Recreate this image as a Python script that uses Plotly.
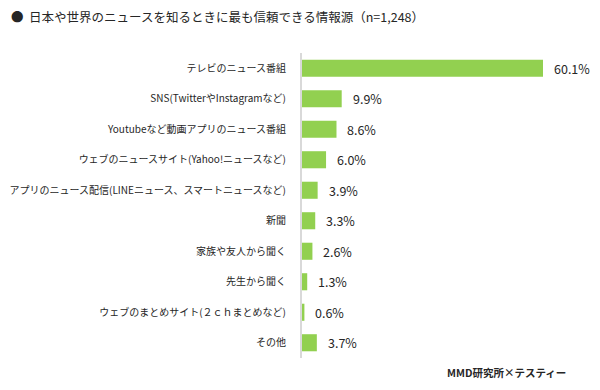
import plotly.graph_objects as go

categories = [
    "テレビのニュース番組",
    "SNS(TwitterやInstagramなど)",
    "Youtubeなど動画アプリのニュース番組",
    "ウェブのニュースサイト(Yahoo!ニュースなど)",
    "アプリのニュース配信(LINEニュース、スマートニュースなど)",
    "新聞",
    "家族や友人から聞く",
    "先生から聞く",
    "ウェブのまとめサイト(２ｃｈまとめなど)",
    "その他",
]
values = [60.1, 9.9, 8.6, 6.0, 3.9, 3.3, 2.6, 1.3, 0.6, 3.7]
title_text = "●  日本や世界のニュースを知るときに最も信頼できる情報源（n=1,248）"
source_text = "MMD研究所×テスティー"

FONT = "Noto Sans CJK JP"
OFF = 8  # page body margin of the browser
W, H = 600 - 2 * OFF, 390 - 2 * OFF
ML = 302 - OFF
MT = 53 - OFF
MB = H - (358 - OFF)
MR = 12
pw = W - ML - MR
ph = H - MT - MB
xmax = pw / (241 / 60.1)

fig = go.Figure()
fig.add_trace(go.Bar(
    x=values, y=categories, orientation="h",
    marker=dict(color="#92d050", line=dict(width=0)),
    hoverinfo="skip",
))

for c, v in zip(categories, values):
    fig.add_annotation(
        x=v, y=c, xref="x", yref="y", text=f"{v:.1f}%",
        showarrow=False, xanchor="left", xshift=9,
        font=dict(family=FONT, size=12.5, color="#262626"),
    )

fig.add_annotation(
    xref="paper", yref="paper",
    x=(568 - 302) / pw, y=(358 - 372) / ph,
    xanchor="right", yanchor="middle", showarrow=False,
    text=f"<b>{source_text}</b>",
    font=dict(family=FONT, size=10.5, color="#262626"),
)

fig.update_layout(
    width=W, height=H,
    margin=dict(l=ML, r=MR, t=MT, b=MB, autoexpand=False),
    paper_bgcolor="white", plot_bgcolor="white",
    showlegend=False,
    bargap=0.44,
    title=dict(
        text=title_text, x=(11 - OFF) / W, xanchor="left", xref="container",
        y=1 - (18 - OFF) / H, yanchor="middle", yref="container",
        pad=dict(l=0, r=0, t=0, b=0),
        font=dict(family=FONT, size=12.5, color="#262626"),
    ),
    xaxis=dict(range=[0, xmax], showgrid=False, zeroline=False,
               showticklabels=False, showline=False, fixedrange=True,
               automargin=False),
    yaxis=dict(autorange="reversed", showgrid=False, zeroline=False,
               showline=True, linecolor="#d9d9d9", linewidth=2,
               ticks="", ticklabelstandoff=12, automargin=False,
               tickfont=dict(family=FONT, size=10, color="#262626")),
)

fig.write_html("out.html")
